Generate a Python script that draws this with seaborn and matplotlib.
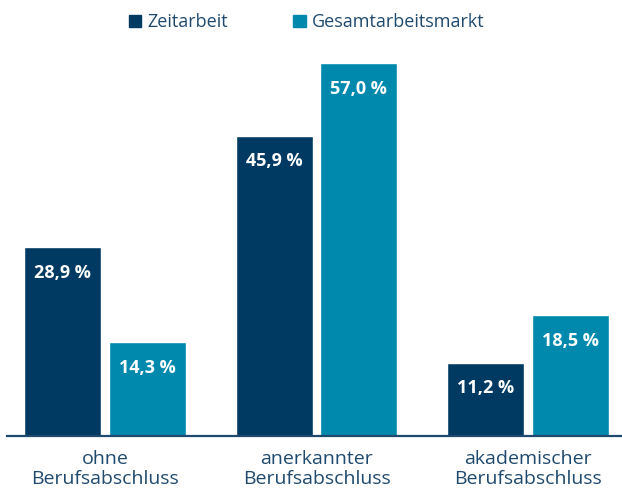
import matplotlib.pyplot as plt
import pandas as pd
import seaborn as sns
from matplotlib.patches import Patch

categories = ["ohne\nBerufsabschluss", "anerkannter\nBerufsabschluss", "akademischer\nBerufsabschluss"]
series = ["Zeitarbeit", "Gesamtarbeitsmarkt"]
zeitarbeit = [28.9, 45.9, 11.2]
gesamt = [14.3, 57.0, 18.5]

palette = {"Zeitarbeit": "#003a63", "Gesamtarbeitsmarkt": "#0089ad"}
text_color = "#1f4a6e"


def main():
    df = pd.DataFrame({
        "category": categories * 2,
        "series": [series[0]] * 3 + [series[1]] * 3,
        "value": zeitarbeit + gesamt,
    })

    sns.set_theme(style="white")
    plt.rcParams["font.family"] = ["Open Sans", "DejaVu Sans"]

    fig = plt.figure(figsize=(6.22, 4.88), dpi=100)
    ax = fig.add_axes([7 / 622, 52 / 488, 615 / 622, 396 / 488])

    sns.barplot(
        data=df, x="category", y="value", hue="series",
        hue_order=series, order=categories, palette=palette,
        width=0.8, gap=0.09, saturation=1, ax=ax, legend=False,
    )

    for container in ax.containers:
        labels = [f"{v:.1f} %".replace(".", ",") for v in container.datavalues]
        ax.bar_label(container, labels=labels, label_type="edge", padding=-25,
                     color="white", fontsize=13, fontweight="bold")

    ax.set_xlim(-0.463, 2.444)
    ax.set_ylim(0, 60.5)
    ax.set_xlabel("")
    ax.set_ylabel("")
    ax.set_yticks([])
    ax.tick_params(axis="x", length=0, pad=10, labelsize=14, labelcolor=text_color)
    for side in ["top", "right", "left"]:
        ax.spines[side].set_visible(False)
    ax.spines["bottom"].set_color(text_color)
    ax.spines["bottom"].set_linewidth(1.6)
    for lbl in ax.get_xticklabels():
        lbl.set_linespacing(1.15)

    handles = [Patch(color=palette[s]) for s in series]
    fig.legend(handles, series, loc="center", bbox_to_anchor=(0.493, 0.954),
               ncol=2, frameon=False, fontsize=13, labelcolor=text_color,
               handlelength=0.7, handleheight=0.7, handletextpad=0.35,
               columnspacing=3.6)

    fig.savefig("out.png", dpi=100)


if __name__ == "__main__":
    main()
